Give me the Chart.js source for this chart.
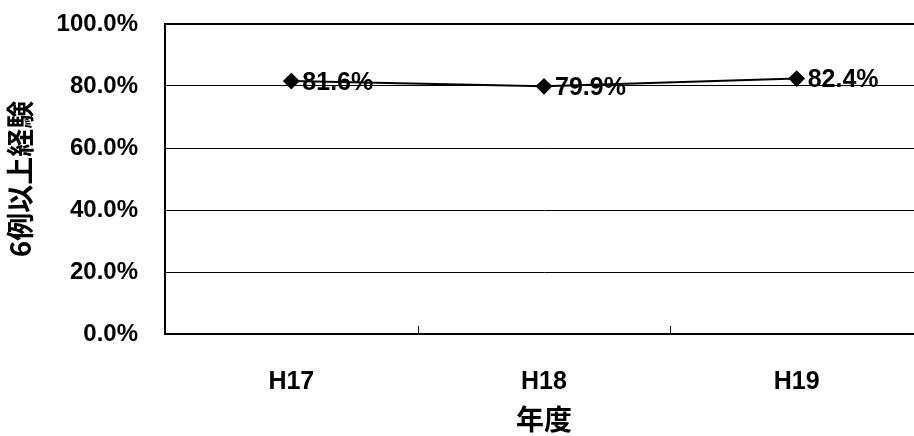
<!DOCTYPE html>
<html>
<head>
<meta charset="utf-8">
<script src="https://cdn.jsdelivr.net/npm/chart.js@4"></script>
<style>
  html, body { margin: 0; padding: 0; background: #fff; overflow: hidden; }
  #wrap { width: 932px; height: 436px; }
</style>
</head>
<body>
<div id="wrap"><canvas id="rateChart"></canvas></div>
<script>
var categories = ['H17', 'H18', 'H19'];
var rateValues = [81.6, 79.9, 82.4];
var yTicks = [0, 20, 40, 60, 80, 100];

var fontFamily = '"Liberation Sans", Arial, sans-serif';
var cjkFamily = '"Noto Sans CJK JP", "Liberation Sans", sans-serif';

// small helper plugin: value labels right of each point + inward x ticks
var labelPlugin = {
    id: 'valueLabels',
    afterDatasetsDraw: function (chart) {
        var ctx = chart.ctx;
        var meta = chart.getDatasetMeta(0);
        ctx.save();
        ctx.font = 'bold 25px ' + fontFamily;
        ctx.fillStyle = '#000';
        ctx.textAlign = 'left';
        ctx.textBaseline = 'middle';
        meta.data.forEach(function (pt, i) {
            ctx.fillText(rateValues[i].toFixed(1) + '%', pt.x + 11, pt.y + 2);
        });
        ctx.restore();
    },
    afterDraw: function (chart) {
        var ctx = chart.ctx;
        var x = chart.scales.x;
        var bottom = chart.chartArea.bottom;
        ctx.save();
        ctx.strokeStyle = '#000';
        ctx.lineWidth = 1;
        for (var i = 1; i < categories.length; i++) {
            var px = Math.round((x.getPixelForValue(i - 1) + x.getPixelForValue(i)) / 2) + 0.5;
            ctx.beginPath();
            ctx.moveTo(px, bottom - 8);
            ctx.lineTo(px, bottom);
            ctx.stroke();
        }
        ctx.restore();
    }
};

var ctx = document.getElementById('rateChart').getContext('2d');
new Chart(ctx, {
    type: 'line',
    data: {
        labels: categories,
        datasets: [{
            label: '6例以上経験',
            data: rateValues,
            borderColor: '#000',
            borderWidth: 2,
            backgroundColor: '#000',
            pointStyle: 'rectRot',
            pointRadius: 7,
            pointBackgroundColor: '#000',
            pointBorderColor: '#000',
            fill: false,
            tension: 0
        }]
    },
    options: {
        responsive: true,
        maintainAspectRatio: false,
        animation: false,
        devicePixelRatio: 1,
        layout: { padding: { top: 24, right: 2, left: 0, bottom: 0 } },
        plugins: {
            legend: { display: false },
            tooltip: { enabled: false }
        },
        scales: {
            x: {
                offset: true,
                grid: { display: false, drawTicks: false },
                border: { display: true, color: '#000', width: 2 },
                ticks: {
                    color: '#000',
                    padding: 33,
                    font: { family: fontFamily, size: 25, weight: 'bold' }
                },
                title: {
                    display: true,
                    text: '年度',
                    color: '#000',
                    padding: { top: 4, bottom: 0 },
                    font: { family: cjkFamily, size: 28, weight: 'bold' }
                },
                afterFit: function (scale) {
                    scale.height = 102;
                    scale.paddingLeft = 0;
                    scale.paddingRight = 0;
                }
            },
            y: {
                min: 0,
                max: 100,
                afterBuildTicks: function (scale) {
                    scale.ticks = yTicks.map(function (v) { return { value: v }; });
                },
                grid: {
                    drawTicks: false,
                    color: '#000',
                    lineWidth: function (c) { return c.tick && c.tick.value === 100 ? 2 : 1; }
                },
                border: { display: true, color: '#000', width: 2 },
                ticks: {
                    color: '#000',
                    padding: 27,
                    font: { family: fontFamily, size: 24, weight: 'bold' },
                    callback: function (v) { return v.toFixed(1) + '%'; }
                },
                title: {
                    display: true,
                    text: '6例以上経験',
                    color: '#000',
                    padding: { top: 4, bottom: 0 },
                    font: { family: cjkFamily, size: 28, weight: 'bold' }
                },
                afterFit: function (scale) {
                    scale.width = 165;
                    scale.paddingTop = 0;
                    scale.paddingBottom = 0;
                }
            }
        }
    },
    plugins: [labelPlugin]
});
</script>
</body>
</html>
